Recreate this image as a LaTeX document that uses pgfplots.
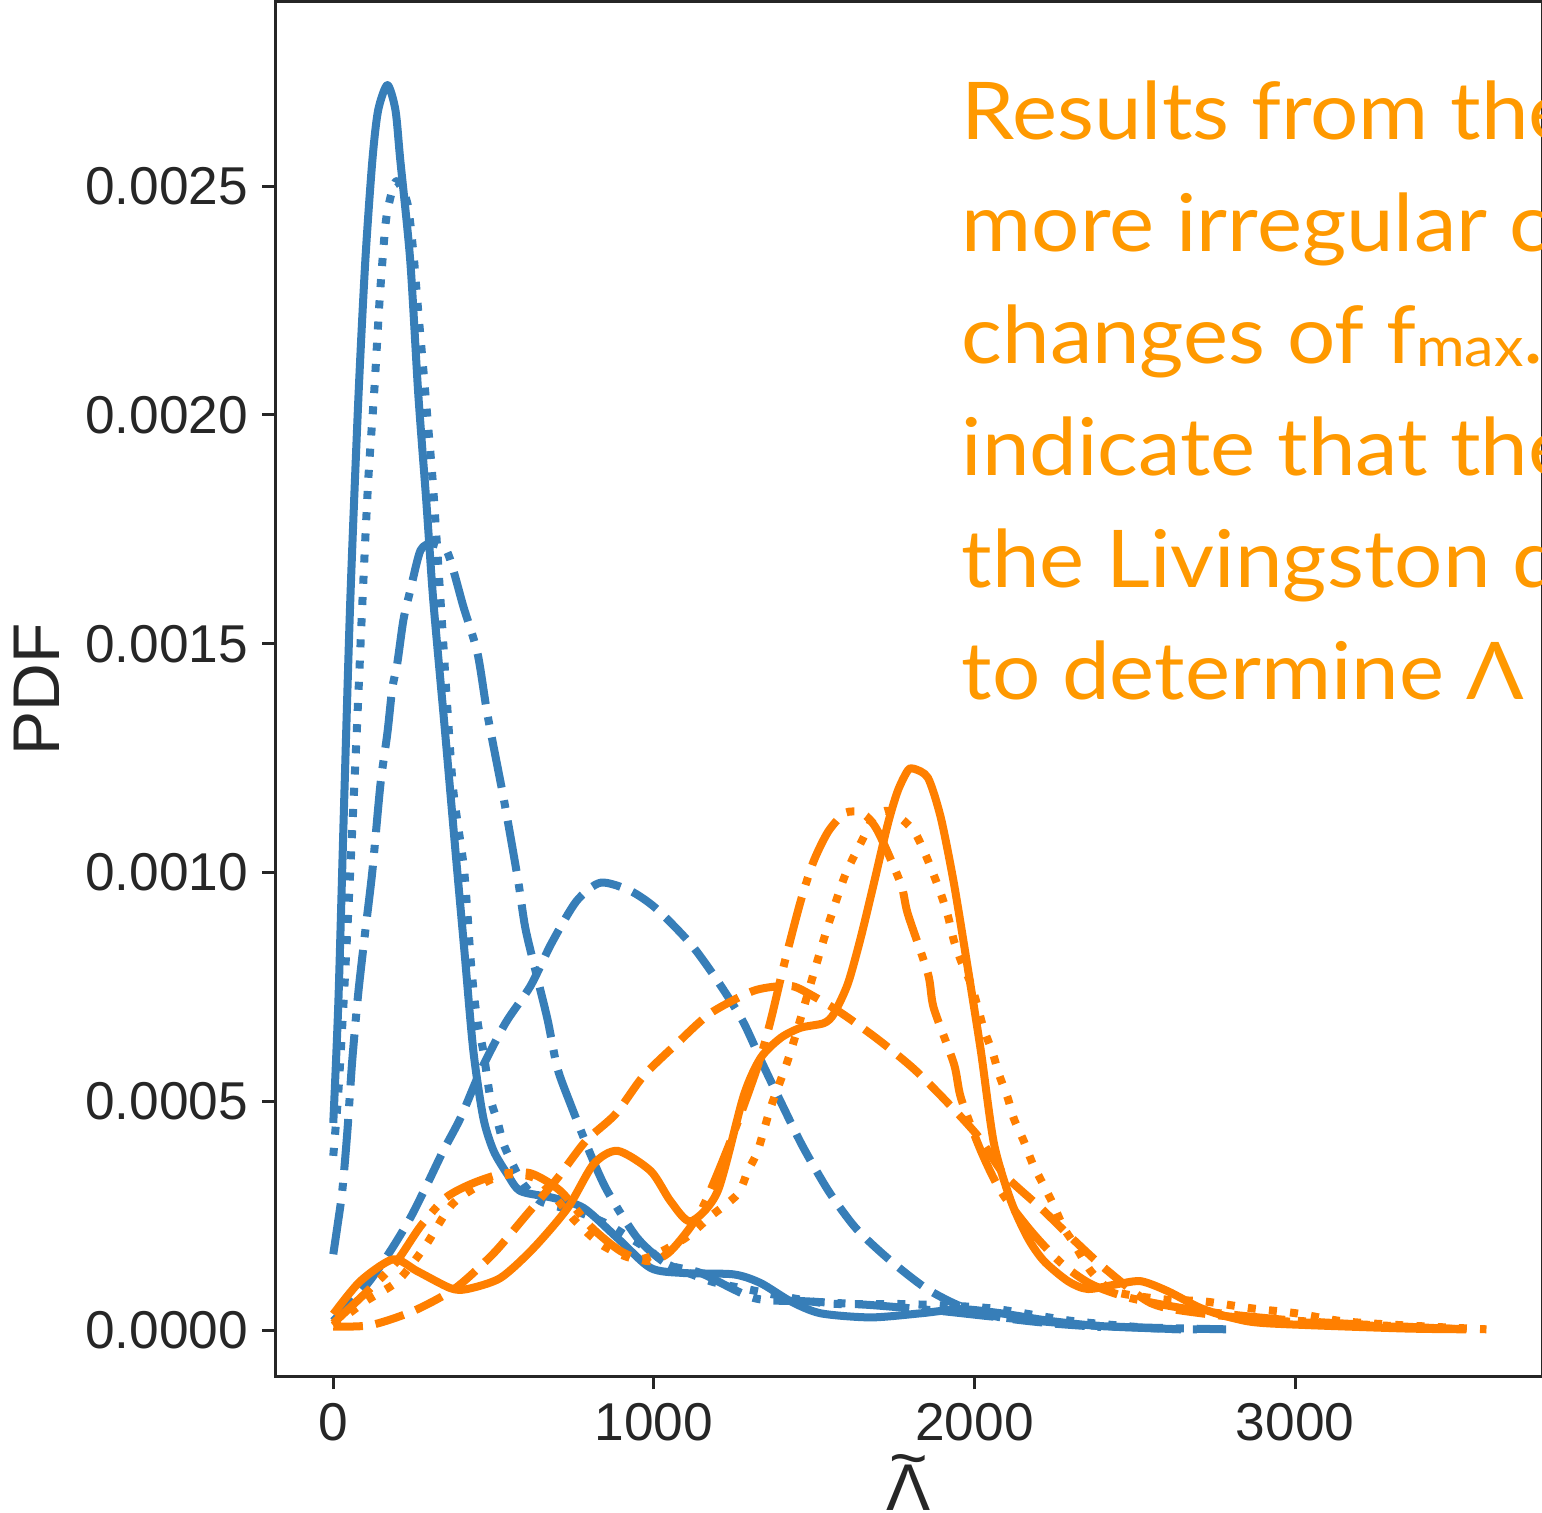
\documentclass[border=0pt]{standalone}
\usepackage{pgfplots}
\pgfplotsset{compat=1.18}
\usepackage{fontspec}
\setmainfont{Liberation Sans}
\newfontfamily\annfont[FakeStretch=1.07]{Lato}

\definecolor{cblue}{HTML}{377EB8}
\definecolor{corange}{HTML}{FF7F00}
\definecolor{txtorange}{HTML}{FF9900}
\definecolor{ink}{HTML}{262626}

\tikzset{
  lsolid/.style={solid},
  ldash/.style={dash pattern=on 7.4pt off 3.2pt},
  ldot/.style={dash pattern=on 2pt off 3.3pt},
  ldashdot/.style={dash pattern=on 12.8pt off 3.2pt on 2pt off 3.2pt},
}

\begin{document}
\begin{tikzpicture}
\begin{axis}[
  at={(0,0)}, anchor=south west,
  scale only axis, width=316.5pt, height=343.25pt,
  xmin=-181, xmax=3771.5, ymin=-0.0001006, ymax=0.0029025,
  axis line style={ink, line width=0.75pt},
  xtick={0,1000,2000,3000},
  ytick={0,0.0005,0.001,0.0015,0.002,0.0025},
  scaled y ticks=false, scaled x ticks=false,
  /pgf/number format/assume math mode=true,
  /pgf/number format/set thousands separator={},
  yticklabel style={/pgf/number format/fixed, /pgf/number format/fixed zerofill, /pgf/number format/precision=4},
  tick align=outside, tick pos=left,
  major tick length=3.25pt,
  every tick/.style={ink, line width=0.75pt},
  ticklabel style={font=\fontsize{13.3}{14}\selectfont, text=ink},
  every axis plot/.append style={line width=2pt, line join=round, smooth, tension=0.45},
]
% ---- blue family ----
\addplot[cblue, lsolid] coordinates {
(0,0.000453) (16,0.00072) (34,0.001157) (53,0.001594) (78,0.002032)
(100,0.002338) (122,0.002557) (140,0.002666) (169,0.002721) (194,0.002666) (209,0.002557)
(240,0.002338) (265,0.002047) (290,0.001813) (312,0.001594) (347,0.001321) (381,0.001048)
(409,0.000829) (437,0.00061) (468,0.000464) (500,0.000392) (543,0.000341) (584,0.000304)
(687,0.000289) (781,0.000267) (887,0.000201) (990,0.000136) (1093,0.000125) (1249,0.000122)
(1333,0.000103) (1427,0.000063) (1520,0.000037) (1677,0.000028) (1833,0.000037) (1958,0.000046)
(2082,0.000037) (2239,0.00002) (2395,0.000009) (2644,0.000002)
};
\addplot[cblue, ldot] coordinates {
(0,0.000381) (16,0.000523) (34,0.000741) (53,0.001004) (72,0.001288) (91,0.001594)
(109,0.001857) (128,0.002054) (145,0.002257) (162,0.00241) (174,0.002463) (197,0.002511)
(231,0.002463) (250,0.002353)
(262,0.002251) (281,0.002098) (297,0.001966) (312,0.001837) (340,0.001535) (359,0.001325)
(375,0.001175) (406,0.001019) (418,0.000916) (428,0.000814) (440,0.000726) (453,0.000661)
(468,0.00061) (490,0.000507) (512,0.000457) (531,0.000407) (562,0.000359) (593,0.000319)
(646,0.000282) (718,0.000267) (781,0.000254) (855,0.000232) (927,0.000201) (990,0.000173)
(1043,0.000144) (1177,0.000107) (1274,0.000092) (1533,0.000059) (1792,0.000057) (2048,0.000048)
(2307,0.00002) (2566,0.000004) (2694,0.000002)
};
\addplot[cblue, ldashdot] coordinates {
(0,0.000166) (12,0.000223) (28,0.000304) (44,0.000435) (59,0.000588) (78,0.000737)
(100,0.000873) (122,0.001004) (147,0.001192) (169,0.001306) (184,0.001402) (200,0.001459)
(219,0.001553) (240,0.001616) (272,0.001704) (309,0.001719) (356,0.0017) (406,0.001581)
(450,0.001479) (481,0.001345) (528,0.001175) (553,0.001078) (578,0.000976) (599,0.000879)
(631,0.000785) (668,0.00068) (699,0.000573) (740,0.000494) (802,0.000385) (855,0.000304)
(949,0.000201) (1043,0.000144) (1146,0.000125) (1314,0.00007) (1480,0.000063) (1677,0.000055)
(1895,0.000042) (2082,0.000028) (2395,0.000009) (2785,0.000002)
};
\addplot[cblue, ldash] coordinates {
(0,0.00002) (106,0.000101) (178,0.000173) (240,0.000245) (293,0.000319) (343,0.000392)
(397,0.000464) (459,0.000566) (537,0.000671) (615,0.000752) (681,0.000846) (759,0.000938)
(834,0.000978) (927,0.00096) (1008,0.000921) (1115,0.000844) (1199,0.000763) (1277,0.000676)
(1339,0.000582) (1402,0.00049) (1464,0.000402) (1545,0.000304) (1630,0.000223) (1733,0.000155)
(1848,0.000092) (1958,0.000052) (2082,0.000028) (2239,0.000015) (2395,0.000007)
};
% ---- orange family ----
\addplot[corange, lsolid] coordinates {
(0,0.000035) (84,0.000107) (187,0.000155) (262,0.000129) (365,0.000092) (418,0.00009)
(521,0.000114) (624,0.000179) (731,0.000267) (812,0.000363) (887,0.000392) (990,0.000348)
(1052,0.000282) (1115,0.000238) (1199,0.000304) (1280,0.000512) (1333,0.000595) (1396,0.000639)
(1458,0.000661) (1530,0.000671) (1561,0.000691) (1605,0.000757) (1645,0.000857) (1686,0.000976)
(1730,0.001107) (1761,0.001179) (1792,0.001223) (1811,0.001227) (1855,0.001207) (1895,0.00112)
(1936,0.000976) (1979,0.000792) (2020,0.00061) (2061,0.000407) (2114,0.000282) (2167,0.000201)
(2217,0.000151) (2292,0.000107) (2354,0.00009) (2448,0.000101) (2520,0.000107) (2604,0.000085)
(2707,0.000048) (2810,0.000026) (2916,0.000015) (3331,0.000004) (3534,0.000002)
};
\addplot[corange, ldot] coordinates {
(0,0.00001) (100,0.000063) (200,0.000107) (287,0.000184) (372,0.000276) (481,0.000326)
(562,0.000341) (646,0.000326) (749,0.000243) (843,0.000184) (958,0.000155) (1093,0.000199)
(1177,0.000249) (1261,0.000297) (1293,0.000348) (1324,0.000392) (1364,0.000486) (1417,0.000588)
(1458,0.000682) (1499,0.000781) (1545,0.000888) (1592,0.000986) (1620,0.00103) (1652,0.001074)
(1683,0.001118) (1723,0.001135) (1761,0.001124) (1811,0.001091) (1842,0.001048) (1870,0.001)
(1895,0.000954) (1917,0.000906) (1936,0.000851) (1958,0.000807) (1989,0.000757) (2011,0.000704)
(2029,0.000658) (2057,0.000606) (2076,0.00056) (2104,0.000507) (2123,0.000462) (2154,0.000413)
(2182,0.000363) (2214,0.000319) (2245,0.000276) (2279,0.000223) (2310,0.00019) (2363,0.000129)
(2435,0.000085) (2582,0.000068) (2716,0.000063) (2863,0.000048) (3003,0.000037) (3144,0.00002)
(3331,0.000011) (3597,0.000002)
};
\addplot[corange, ldashdot] coordinates {
(0,0.000015) (100,0.000081) (194,0.000147) (272,0.000227) (350,0.000289) (428,0.000319)
(521,0.000341) (615,0.000343) (709,0.000304) (802,0.000227) (896,0.000173) (983,0.000151)
(1052,0.000173) (1146,0.00026) (1239,0.000413) (1324,0.000577) (1364,0.000676) (1405,0.000796)
(1458,0.000938) (1499,0.001026) (1545,0.001091) (1598,0.001131) (1652,0.001129) (1698,0.001091)
(1770,0.000976) (1792,0.00091) (1855,0.000779) (1873,0.000704) (1936,0.000582) (1958,0.000507)
(2020,0.000392) (2082,0.000304) (2176,0.000217) (2270,0.000147) (2363,0.000101) (2488,0.00007)
(2707,0.000042) (3019,0.00002) (3519,0.000002)
};
\addplot[corange, ldash] coordinates {
(0,0.000008) (116,0.000011) (250,0.000042) (381,0.000092) (500,0.000168) (599,0.000249)
(699,0.000332) (787,0.000413) (880,0.000472) (968,0.000556) (1074,0.000628) (1177,0.000693)
(1308,0.000741) (1396,0.000752) (1449,0.000748) (1574,0.000698) (1698,0.000636) (1811,0.000571)
(1911,0.000501) (2011,0.000424) (2092,0.000341) (2207,0.000267) (2307,0.000199) (2410,0.000133)
(2551,0.000059) (2707,0.000037) (2957,0.00002) (3331,0.000007) (3550,0.000002)
};
\end{axis}

% axis titles
\node[rotate=90, anchor=center, text=ink, font=\fontsize{16.5}{18}\selectfont]
  at ([xshift=-59.5pt]current axis.west) {PDF};
\node[anchor=base, text=ink, font=\fontsize{16.5}{18}\selectfont, inner sep=0pt]
  at ([yshift=-33.5pt]current axis.south)
  {\ooalign{Λ\cr\hidewidth\raisebox{7.5pt}{\textasciitilde}\hidewidth\cr}};

% annotation, running past the right edge of the frame
\begin{scope}[shift={(current axis.north west)},
  every node/.style={anchor=base west, inner sep=0pt, text=txtorange,
    font=\annfont\fontsize{19.9}{24}\selectfont}]
\node at (171.25pt,-34.25pt) {Results from the};
\node at (171.25pt,-62.25pt) {more irregular c};
\node at (171.25pt,-90.25pt) {changes of f\raisebox{-0.75pt}{\fontsize{13.8}{14}\selectfont max}.};
\node at (171.25pt,-118.25pt) {indicate that the};
\node at (171.25pt,-146.25pt) {the Livingston d};
\node at (171.25pt,-174.25pt) {to determine Λ};
\end{scope}

\pgfresetboundingbox
\path[use as bounding box]
  ([xshift=-68.75pt,yshift=-34pt]current axis.south west)
  rectangle ([xshift=-0.1pt,yshift=0.5pt]current axis.north east);
\end{tikzpicture}
\end{document}
